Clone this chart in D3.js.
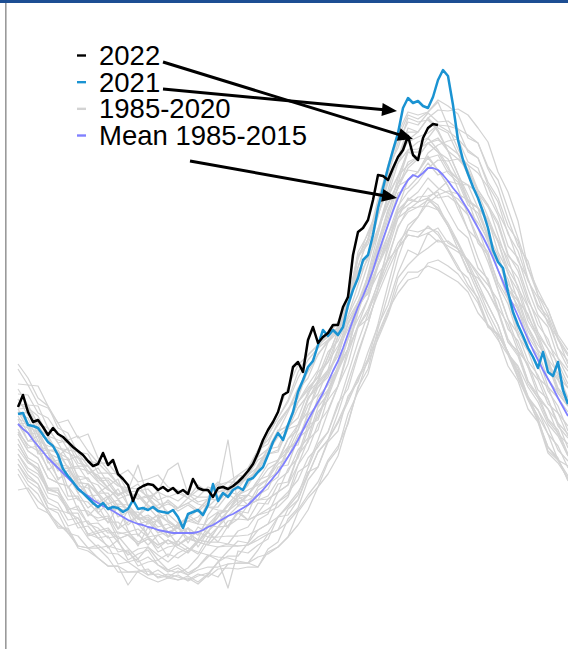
<!DOCTYPE html>
<html>
<head>
<meta charset="utf-8">
<script src="https://cdn.jsdelivr.net/npm/d3@7"></script>
<style>
  html, body { margin: 0; padding: 0; background: #fff; }
  svg { display: block; }
  text { font-family: "Liberation Sans", Arial, Helvetica, sans-serif; }
</style>
</head>
<body>
<svg id="chart" width="568" height="649"></svg>
<script>
// Sampling interval (days) of the stored series
const mainStep = 2;   // 2022, 2021 and the 1985-2015 mean
const greyStep = 4;   // individual years 1985-2020

// 2022 (ends at the latest available day)
const series2022 = [
  233,245,228,218,220,213,205,212,206,203,
  198,193,189,185,179,174,176,187,175,180,
  166,161,155,139,151,154,156,155,150,153,
  149,152,147,150,146,161,152,150,150,143,
  152,153,151,154,158,163,169,176,187,200,
  210,218,228,245,248,273,278,268,300,313,
  297,303,307,315,315,333,343,385,408,412,
  420,440,465,464,460,472,483,490,504,485,
  480,502,512,516,515
];

// 2021
const series2021 = [
  226,227,215,214,212,205,198,194,185,171,
  164,158,151,147,142,137,133,137,131,133,
  132,128,131,140,131,132,130,133,129,128,
  127,130,123,112,126,128,130,125,135,156,
  139,147,143,150,153,150,160,162,168,173,
  185,198,207,200,215,228,248,260,273,279,
  295,310,304,310,305,313,335,350,362,380,
  385,405,432,452,472,490,507,532,542,537,
  539,534,532,543,560,570,564,535,500,480,
  466,453,442,428,412,390,378,372,348,328,
  315,304,292,283,272,288,268,264,278,250,
  236
];

// Mean 1985-2015
const meanSeries = [
  216,211,207,200,194,188,182,177,172,167,
  162,157,152,147,144,140,137,134,132,129,
  126,123,120,118,116,115,113,112,110,109,
  108,107,107,107,107,107,108,110,113,115,
  118,121,124,126,129,132,135,140,145,150,
  156,162,168,175,183,191,200,210,220,229,
  238,247,258,269,279,292,306,320,333,344,
  356,370,386,401,415,429,442,452,460,465,
  463,467,472,472,470,465,459,452,446,438,
  430,421,412,403,393,382,370,358,346,335,
  324,312,301,290,280,270,261,252,242,233,
  224
];

// Individual years 1985-2020, one row per year
const greyYears = [
  [246,245,227,222,207,190,188,186,167,167,166,148,149,151,140,144,139,147,143,143,156,150,156,165,190,196,218,231,242,270,293,306,312,338,383,396,424,460,477,490,491,497,502,489,481,470,450,435,405,376,362,334,308,291,277,256],
  [191,177,172,147,144,130,112,114,102,104,88,90,74,78,80,70,75,67,73,85,80,52,89,87,95,101,123,125,140,168,173,198,209,244,258,288,314,335,367,390,385,407,398,399,391,368,362,348,330,298,289,259,242,231,206,196],
  [231,215,206,187,182,180,158,156,147,136,140,128,128,119,125,118,112,119,116,115,113,114,121,120,125,131,138,148,160,182,193,208,237,251,285,316,351,395,432,460,468,487,495,499,501,490,482,458,442,414,399,361,335,323,292,272],
  [176,159,152,132,127,107,104,92,92,82,68,68,68,62,58,62,60,62,56,65,78,89,99,97,120,126,148,155,185,198,228,240,254,276,313,321,346,370,392,405,403,414,405,389,371,362,340,313,305,288,262,242,224,206,180,174],
  [271,255,254,234,217,220,202,206,182,170,156,148,141,143,132,136,132,137,130,141,148,150,155,162,170,186,188,211,215,242,256,268,284,318,333,348,374,395,427,435,443,444,448,429,411,402,372,361,332,316,289,276,250,241,214,202],
  [221,199,204,177,180,152,164,144,131,142,123,128,104,118,125,103,117,107,100,125,138,149,159,170,190,211,228,253,275,285,295,303,312,335,388,406,431,463,482,512,508,522,508,489,466,445,422,398,370,341,332,298,285,253,242,228],
  [206,189,182,162,157,154,130,129,119,122,101,105,96,101,92,100,92,87,98,95,106,119,121,135,140,161,168,193,195,228,253,263,289,324,345,376,411,437,457,488,483,497,488,481,461,455,432,421,388,368,339,326,300,273,260,239],
  [236,235,216,212,197,180,184,169,165,152,141,145,146,135,128,118,112,107,100,98,98,96,94,95,100,106,110,118,130,145,158,180,194,216,253,271,311,345,382,410,423,442,450,459,456,455,447,433,415,384,374,343,315,301,272,252],
  [166,149,132,127,117,107,94,92,82,74,74,68,69,71,62,64,60,64,58,66,78,84,84,97,110,116,138,145,175,200,210,243,269,301,333,361,394,430,452,472,481,482,485,467,458,435,427,403,378,361,329,313,290,279,250,236],
  [224,207,206,187,169,172,154,152,137,144,131,115,124,116,120,108,112,119,123,133,143,152,151,165,180,186,208,215,238,250,263,278,294,316,338,356,381,405,427,440,438,442,430,414,396,375,352,335,315,286,274,253,238,216,204,184],
  [196,179,172,152,147,130,134,116,112,102,104,92,81,93,85,78,87,92,86,103,113,124,134,135,153,161,180,193,215,228,258,270,304,336,373,401,436,470,502,525,521,528,540,534,526,502,497,471,452,421,394,379,345,331,302,286],
  [276,262,242,234,212,207,187,174,162,152,141,130,121,121,110,103,107,112,105,121,128,129,144,145,160,176,180,201,210,242,253,266,291,311,333,364,381,415,447,452,463,477,465,469,461,438,432,405,385,356,342,313,295,281,252,239],
  [186,169,162,142,137,120,122,106,102,94,91,88,78,83,75,68,72,65,70,73,73,76,77,77,73,88,93,103,128,142,153,178,191,226,248,266,304,327,362,375,385,392,400,394,388,380,367,355,340,311,299,273,260,236,227,204],
  [226,222,199,194,192,187,182,179,177,177,164,170,158,161,165,153,150,142,155,148,158,150,155,165,185,205,222,238,262,280,292,300,310,335,383,401,426,450,484,498,503,507,515,509,501,478,472,445,425,394,382,351,325,313,282,269],
  [211,192,194,170,177,144,144,124,134,117,134,110,94,113,98,83,99,112,93,108,98,114,127,120,137,136,156,158,185,215,220,248,274,291,333,348,391,425,462,490,498,502,515,514,511,505,497,473,460,431,402,372,345,325,300,284],
  [241,225,216,197,192,190,174,174,162,162,154,152,151,143,148,143,147,142,150,150,155,158,158,168,185,205,222,240,268,285,295,305,318,340,385,400,441,473,492,522,518,520,510,489,466,440,412,383,350,321,294,273,245,231,217,192],
  [171,155,146,127,112,112,94,92,95,87,86,78,71,65,66,62,65,59,64,67,63,76,77,77,90,106,110,131,140,165,188,200,217,238,261,278,301,325,354,368,368,374,370,364,358,348,327,315,300,285,262,240,220,193,180,160],
  [228,227,209,190,190,172,174,159,155,142,151,135,124,133,122,126,117,122,116,133,130,129,144,135,140,144,160,168,190,202,233,246,271,291,328,356,394,420,454,460,468,482,470,454,436,425,397,385,358,341,309,291,275,249,234,209],
  [201,182,176,152,152,127,127,104,107,92,100,80,86,90,75,70,67,72,83,98,113,129,144,155,175,191,208,228,250,262,286,298,314,346,363,381,406,443,464,475,483,497,488,471,461,440,432,401,382,351,339,309,290,276,247,234],
  [216,212,189,190,187,172,172,169,158,150,145,150,175,142,148,170,177,146,138,141,140,149,145,150,155,161,176,183,205,215,238,250,269,291,313,331,356,380,414,428,433,434,430,414,396,375,352,328,308,288,269,241,230,213,190,179],
  [176,162,156,132,130,127,122,106,109,112,101,105,106,95,105,96,99,92,88,85,83,82,79,77,83,86,93,103,115,130,153,166,184,218,251,281,316,355,392,415,423,437,445,449,446,440,432,418,400,381,352,333,305,291,264,252],
  [256,255,236,232,217,200,204,189,177,167,156,145,144,133,135,138,129,135,128,138,148,152,164,165,173,191,193,213,222,248,258,283,309,331,368,386,424,457,482,508,508,522,512,507,486,465,442,418,398,366,349,319,302,276,262,236],
  [216,199,199,179,162,164,147,132,140,126,111,118,124,103,105,108,95,103,98,95,93,94,94,95,103,108,123,133,145,172,196,208,234,266,298,326,358,390,422,430,438,452,442,444,436,410,400,388,355,336,304,289,262,253,227,214],
  [236,232,224,204,200,197,177,174,159,160,146,150,141,145,138,128,132,137,143,153,150,158,165,172,190,200,215,230,252,268,285,300,310,335,368,386,411,435,457,470,468,484,470,454,431,410,382,358,330,301,286,259,245,221,210,186],
  [181,165,156,137,132,114,117,102,92,94,76,78,81,65,70,63,69,65,73,83,93,96,109,113,127,141,148,171,182,210,223,250,274,306,338,364,398,430,452,478,483,497,500,494,486,475,450,435,418,386,369,339,322,296,282,262],
  [221,217,194,190,175,174,157,144,145,130,131,130,116,119,107,112,115,122,130,141,140,148,155,165,183,191,210,213,238,252,263,288,299,321,338,346,366,380,392,405,403,407,412,397,391,380,364,348,328,298,284,256,242,219,207,184],
  [208,195,189,172,157,154,140,138,127,118,118,108,111,103,95,100,95,101,98,109,118,129,137,145,157,171,178,201,215,240,260,283,309,341,373,401,436,475,507,528,525,528,538,514,491,470,447,423,398,371,354,323,305,281,267,242],
  [231,232,204,202,184,192,160,162,147,154,161,135,124,138,150,120,112,125,118,138,150,200,134,145,140,141,148,155,175,190,216,230,254,286,315,341,374,405,434,448,458,472,480,479,481,475,467,453,428,408,379,361,332,319,292,279],
  [150,152,139,130,114,110,92,89,82,74,74,55,69,69,63,66,63,60,66,63,71,72,71,73,73,91,98,121,132,160,173,200,227,258,288,316,351,383,412,432,433,440,432,417,398,378,357,335,315,286,272,243,230,206,194,172],
  [251,235,234,212,197,200,182,166,172,157,144,150,156,141,130,140,132,142,136,133,133,146,139,140,145,151,173,175,202,210,243,255,271,301,321,341,376,397,430,440,448,462,452,447,441,430,417,401,370,351,334,304,288,261,247,234],
  [196,179,169,150,150,134,117,119,107,110,98,85,91,93,80,86,82,89,98,108,123,134,144,155,170,186,190,211,232,245,268,278,304,324,355,384,411,445,464,488,488,502,490,474,451,425,402,378,350,321,306,279,265,241,217,206],
  [216,217,186,187,160,170,147,156,127,137,111,130,116,105,122,103,115,97,113,107,128,112,129,120,125,128,133,143,168,175,200,228,254,291,328,366,406,445,477,500,508,522,530,529,531,525,512,498,468,448,419,372,350,330,305,290],
  [228,212,209,190,172,172,157,156,145,132,136,135,121,125,118,108,112,102,108,103,103,104,104,105,110,116,123,135,148,165,188,200,219,241,263,281,306,330,347,360,363,377,380,374,366,352,337,313,305,288,265,242,218,187,177,162],
  [206,189,182,162,157,140,142,126,122,124,106,108,98,103,88,93,95,89,100,98,113,114,129,127,150,156,163,191,200,225,235,258,271,291,313,328,351,375,397,410,408,412,408,391,374,355,342,315,306,286,268,244,222,189,180,164],
  [236,232,212,204,187,182,164,162,147,147,134,132,121,123,113,116,107,112,105,115,126,129,141,145,160,164,180,188,210,235,246,270,284,316,333,351,376,400,422,442,438,442,435,414,391,370,347,323,302,274,259,231,218,193,182,159],
  [186,172,166,150,147,132,130,116,117,107,108,105,96,101,95,100,95,102,98,113,123,136,147,157,173,188,203,213,238,255,270,298,308,335,381,408,431,465,497,518,515,527,518,519,511,488,482,455,438,406,389,359,342,316,302,276]
];

// Legend entries
const legendLabels = ["2022", "2021", "1985-2020", "Mean 1985-2015"];
const legendColors = ["#000000", "#1a93d2", "#d3d3d3", "#8080ff"];

// Arrow targets on the curves: [day, value]
const arrowTargets = [[158, 501], [151.6, 529], [151.6, 442]];

const W = 568, H = 649;
const svg = d3.select("#chart");

svg.append("rect").attr("width", W).attr("height", H).attr("fill", "#ffffff");

const x = d3.scaleLinear().domain([0, 220]).range([18, 568]);
const y = d3.scaleLinear().domain([0, 600]).range([640, 40]);

const lineFor = step => d3.line()
  .x((d, i) => x(i * step))
  .y(d => y(d));

const plot = svg.append("g");

// 1985-2020 years
plot.append("g")
  .selectAll("path")
  .data(greyYears)
  .join("path")
  .attr("d", lineFor(greyStep))
  .attr("fill", "none")
  .attr("stroke", legendColors[2])
  .attr("stroke-width", 1.25)
  .attr("stroke-linejoin", "round");

// Mean
plot.append("path")
  .datum(meanSeries)
  .attr("d", lineFor(mainStep))
  .attr("fill", "none")
  .attr("stroke", legendColors[3])
  .attr("stroke-width", 1.8)
  .attr("stroke-linejoin", "round");

// 2021
plot.append("path")
  .datum(series2021)
  .attr("d", lineFor(mainStep))
  .attr("fill", "none")
  .attr("stroke", legendColors[1])
  .attr("stroke-width", 2.5)
  .attr("stroke-linejoin", "round");

// 2022
plot.append("path")
  .datum(series2022)
  .attr("d", lineFor(mainStep))
  .attr("fill", "none")
  .attr("stroke", legendColors[0])
  .attr("stroke-width", 2.5)
  .attr("stroke-linejoin", "round");

// Frame: top band and left edge
svg.append("rect").attr("x", 0).attr("y", 0).attr("width", W).attr("height", 3).attr("fill", "#1d4e93");
svg.append("rect").attr("x", 5).attr("y", 3).attr("width", 1.6).attr("height", H - 3).attr("fill", "#9a9a9a");

// Legend
const legend = svg.append("g");
const rowBase = 65, rowGap = 26.67;
legendLabels.forEach((label, i) => {
  const by = rowBase + i * rowGap;
  legend.append("line")
    .attr("x1", 77).attr("x2", 86)
    .attr("y1", by - 9.5).attr("y2", by - 9.5)
    .attr("stroke", legendColors[i])
    .attr("stroke-width", 2.4);
  legend.append("text")
    .attr("x", 99).attr("y", by)
    .attr("font-size", 27.5)
    .attr("fill", "#000")
    .text(label);
});

// Arrows from the legend labels to the curves
const arrowStarts = [[163, 62], [163, 89], [190, 161]];
const arrows = svg.append("g");
arrowTargets.forEach((t, i) => {
  const tip = [x(t[0]), y(t[1])];
  const s = arrowStarts[i];
  const dx = tip[0] - s[0], dy = tip[1] - s[1];
  const len = Math.hypot(dx, dy);
  const ux = dx / len, uy = dy / len;
  const headLen = 15, headHalf = 6.5;
  const bx = tip[0] - ux * headLen, by = tip[1] - uy * headLen;
  arrows.append("line")
    .attr("x1", s[0]).attr("y1", s[1])
    .attr("x2", bx + ux * 2).attr("y2", by + uy * 2)
    .attr("stroke", "#000")
    .attr("stroke-width", 3);
  arrows.append("polygon")
    .attr("points", [
      tip,
      [bx - uy * headHalf, by + ux * headHalf],
      [bx + uy * headHalf, by - ux * headHalf]
    ].map(p => p.join(",")).join(" "))
    .attr("fill", "#000");
});
</script>
</body>
</html>
